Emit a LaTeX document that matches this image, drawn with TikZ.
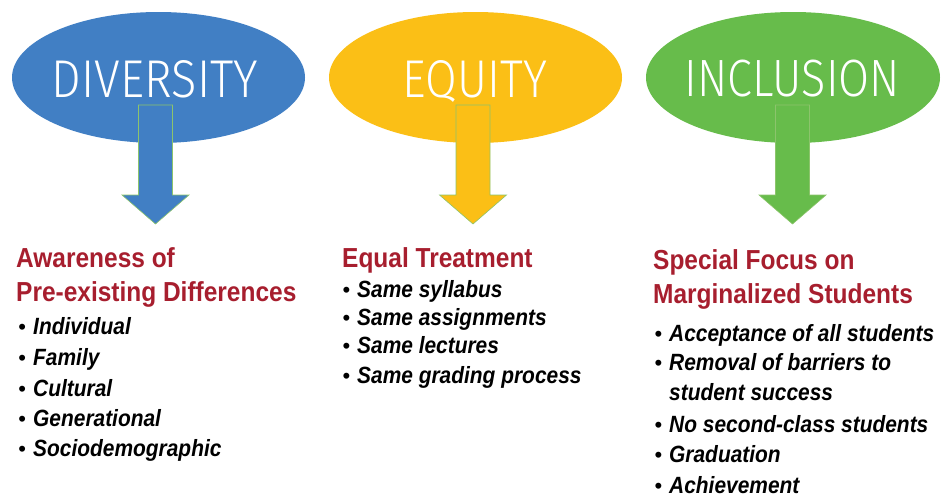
\documentclass[tikz,border=0pt]{standalone}
\usepackage{fontspec}
\usetikzlibrary{shapes.geometric}
\setmainfont{Liberation Sans}
\newfontfamily\headfont{Liberation Sans}[FakeStretch=0.89]
\IfFontExistsTF{Fira Sans Light}{\newfontfamily\titlefont{Fira Sans Light}}{\newfontfamily\titlefont{Fira Sans}}
\definecolor{divblue}{HTML}{417FC4}
\definecolor{eqyellow}{HTML}{FBBF16}
\definecolor{incgreen}{HTML}{67BC4B}
\definecolor{arrowedge}{HTML}{8CC46C}
\definecolor{headred}{HTML}{A71E2E}
\begin{document}
\begin{tikzpicture}[x=1pt,y=-1pt,
  oval/.style={ellipse, inner sep=0pt, minimum width=293pt, minimum height=131pt, draw=none},
  title/.style={text=white, font=\titlefont, inner sep=0pt, anchor=base},
  head/.style={text=headred, font=\headfont\bfseries\fontsize{27.5}{30}\selectfont, inner sep=0pt, anchor=base west},
  item/.style={text=black, font=\headfont\bfseries\itshape\fontsize{23.5}{26}\selectfont, inner sep=0pt, anchor=base west},
  downarrow/.pic={\path[pic actions] (-17,105) -- (17,105) -- (17,195) -- (33.5,195) -- (0,224) -- (-33.5,195) -- (-17,195) -- cycle;},
  blockarrow/.style={draw=arrowedge, line width=0.6pt}
]
\useasboundingbox (0,0) rectangle (948,493);
\newcommand{\bul}{\llap{\normalfont\fontsize{22}{24}\selectfont\textbullet\hspace{7pt}}}

% ovals
\node[oval, fill=divblue] (div) at (158.5,77.5) {};
\node[oval, fill=eqyellow] (equ) at (475.5,77.5) {};
\node[oval, fill=incgreen, minimum width=294pt] (inc) at (793,77.5) {};

% titles
\node[title] (tdiv) at (155,97) {\resizebox{206pt}{37pt}{DIVERSITY}};
\node[title] (tequ) at (475,97) {\resizebox{144pt}{37pt}{EQUITY}};
\node[title] (tinc) at (792.5,96.5) {\resizebox{215pt}{36.5pt}{INCLUSION}};

% block arrows
\pic[blockarrow, fill=divblue] at (155.5,0) {downarrow};
\pic[blockarrow, fill=eqyellow] at (473,0) {downarrow};
\pic[blockarrow, fill=incgreen] at (792.5,0) {downarrow};

% left column
\node[head] (h1a) at (16,267) {Awareness of};
\node[head] (h1b) at (16,301) {Pre-existing Differences};
\node[item] (l1) at (33,334) {\bul Individual};
\node[item] (l2) at (33,365) {\bul Family};
\node[item] (l3) at (33,396) {\bul Cultural};
\node[item] (l4) at (33,426) {\bul Generational};
\node[item] (l5) at (33,456) {\bul Sociodemographic};

% middle column
\node[head] (h2a) at (342,267) {Equal Treatment};
\node[item] (m1) at (357,297) {\bul Same syllabus};
\node[item] (m2) at (357,325) {\bul Same assignments};
\node[item] (m3) at (357,353) {\bul Same lectures};
\node[item] (m4) at (357,383) {\bul Same grading process};

% right column
\node[head] (h3a) at (653,269) {Special Focus on};
\node[head] (h3b) at (653,303) {Marginalized Students};
\node[item] (r1) at (669,341) {\bul Acceptance of all students};
\node[item] (r2) at (669,370) {\bul Removal of barriers to};
\node[item] (r2b) at (669,400) {student success};
\node[item] (r3) at (669,432) {\bul No second-class students};
\node[item] (r4) at (669,462) {\bul Graduation};
\node[item] (r5) at (669,493) {\bul Achievement};
\end{tikzpicture}
\end{document}
